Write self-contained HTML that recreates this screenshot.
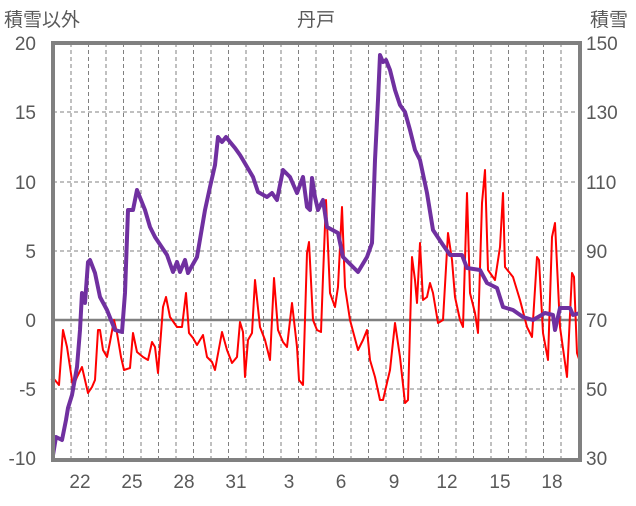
<!DOCTYPE html><html><head><style>body{margin:0;background:#fff}svg text{font-family:"Liberation Sans","Noto Sans CJK JP",sans-serif;fill:#595959}</style></head><body>
<svg width="636" height="501" viewBox="0 0 636 501">
<g stroke="#808080" stroke-width="1" stroke-dasharray="4,3">
<line x1="53" y1="112" x2="580" y2="112"/><line x1="53" y1="182" x2="580" y2="182"/><line x1="53" y1="251" x2="580" y2="251"/><line x1="53" y1="389" x2="580" y2="389"/>
</g>
<g stroke="#808080" stroke-width="1" stroke-dasharray="4,3" id="v"></g>
<line x1="53" y1="320" x2="580" y2="320" stroke="#808080" stroke-width="2.5"/>
<polyline fill="none" stroke="#ff0000" stroke-width="2" stroke-linejoin="round" points="51,380 54,379 59,385 63,330 67,347 70,367 73,387 77,377 82,367 85,380 88,393 92,387 95,380 98,330 100,330 103,350 107,357 110,342 114,320 117,333 121,357 124,370 130,368 133,333 137,352 143,357 148,360 152,342 155,347 158,373 163,307 166,297 170,317 177,327 182,327 186,293 189,333 193,338 197,345 203,335 207,357 212,362 215,370 222,332 227,350 232,363 237,357 240,322 243,332 245,377 248,340 252,333 255,280 260,327 265,340 270,360 274,278 278,330 283,342 287,347 292,303 297,347 299,380 303,385 307,253 309,242 313,320 317,330 321,332 323,277 326,200 330,293 335,307 338,287 342,207 345,287 350,320 358,350 363,340 367,330 370,360 375,377 380,400 383,400 390,370 395,323 400,357 405,403 408,400 412,257 415,280 417,303 420,243 423,300 427,297 430,283 433,293 438,323 443,320 448,233 452,260 455,297 460,320 463,327 467,193 470,293 475,313 478,333 482,203 485,170 488,270 495,280 500,247 503,193 505,267 513,277 520,300 527,327 532,337 537,257 539,260 543,333 548,360 552,237 555,223 560,327 567,377 572,273 574,277 577,353 580,362"/>
<polyline fill="none" stroke="#7030a0" stroke-width="4" stroke-linejoin="round" points="53,455 56,437 62,440 66,420 68,408 72,395 77,367 80,330 82,293 85,303 88,262 90,260 95,273 100,297 107,310 115,330 122,332 125,293 128,210 133,210 137,190 145,210 150,227 155,237 167,255 173,272 177,262 180,272 185,260 188,273 197,257 205,210 210,187 215,165 218,137 222,142 226,137 230,142 235,148 240,155 243,160 253,177 258,192 267,197 272,193 277,200 283,170 290,177 297,193 303,177 307,207 310,210 312,178 315,197 318,210 323,200 327,227 338,233 343,257 358,272 367,257 372,243 375,160 378,100 380,55 383,62 386,60 390,70 395,90 400,105 405,112 410,130 415,150 420,160 427,193 433,230 443,245 450,255 462,255 467,268 480,270 487,283 497,288 503,307 513,310 523,317 533,320 545,313 553,315 555,330 560,308 570,308 573,315 580,313"/>
<rect x="53" y="43" width="527" height="417" fill="none" stroke="#808080" stroke-width="4"/>
<g font-size="19" text-anchor="end">
<text x="36" y="50">20</text><text x="36" y="119">15</text><text x="36" y="189">10</text><text x="36" y="258">5</text><text x="36" y="327">0</text><text x="36" y="396">-5</text><text x="36" y="465">-10</text>
</g>
<g font-size="19" text-anchor="start">
<text x="586" y="50">150</text><text x="586" y="119">130</text><text x="586" y="189">110</text><text x="586" y="258">90</text><text x="586" y="327">70</text><text x="586" y="396">50</text><text x="586" y="465">30</text>
</g>
<g font-size="19" text-anchor="middle">
<text x="80" y="488">22</text><text x="132" y="488">25</text><text x="184" y="488">28</text><text x="236" y="488">31</text><text x="289" y="488">3</text><text x="341" y="488">6</text><text x="394" y="488">9</text><text x="447" y="488">12</text><text x="500" y="488">15</text><text x="552" y="488">18</text>
</g>
<text x="4" y="26" font-size="19">積雪以外</text>
<text x="316" y="26" font-size="19" text-anchor="middle">丹戸</text>
<text x="590" y="26" font-size="19">積雪</text>
</svg>
<script>
var g=document.getElementById('v'),s='';for(var i=0;i<29;i++){var x=71+i*17.5;s+='<line x1="'+x+'" y1="43" x2="'+x+'" y2="460"/>';}g.innerHTML=s;
</script>
</body></html>
